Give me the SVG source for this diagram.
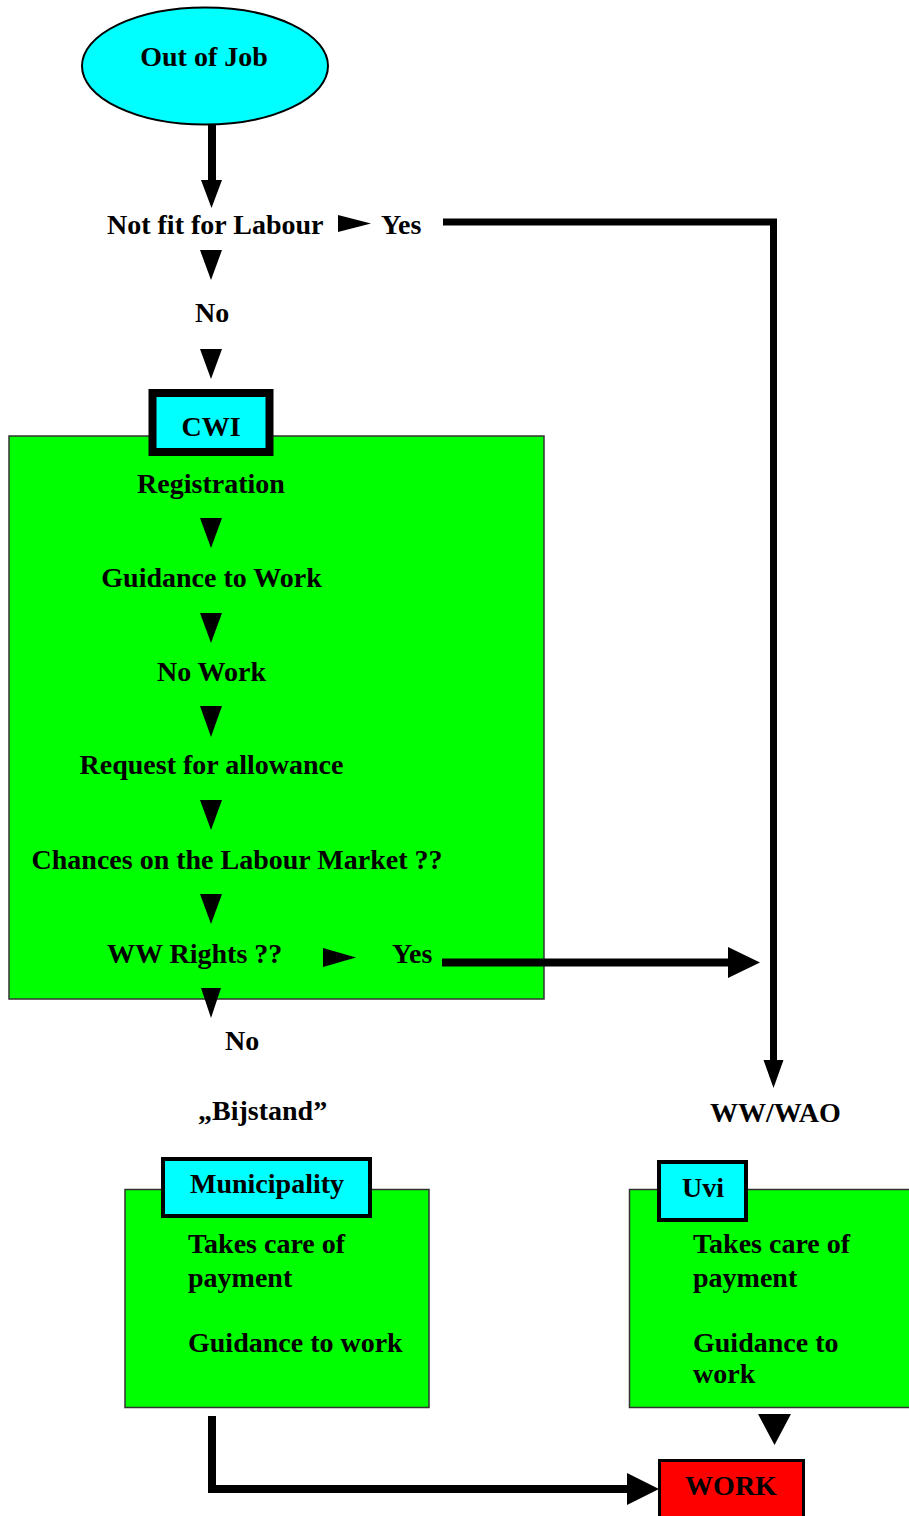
<svg xmlns="http://www.w3.org/2000/svg" width="909" height="1516" viewBox="0 0 909 1516">
<style>
text{font-family:"Liberation Serif","Times New Roman",serif;font-weight:bold;font-size:28px;fill:#000}
.c{text-anchor:middle}
.green{fill:#00FF00;stroke:#333;stroke-width:1.5}
.lbl{fill:#00FFFF;stroke:#000}
.ln{fill:none;stroke:#000;stroke-linejoin:miter}
.tri{fill:#000}
</style>
<rect width="909" height="1516" fill="#fff"/>
<g id="out-of-job">
<ellipse cx="205" cy="66" rx="123" ry="58.5" fill="#00FFFF" stroke="#000" stroke-width="2"/>
<text class="c" x="204" y="66">Out of Job</text>
</g>
<g id="not-fit">
<text x="107" y="234">Not fit for Labour</text>
<text x="381" y="234">Yes</text>
</g>
<g id="no1"><text x="195" y="322">No</text></g>
<g id="cwi">
<rect class="green" x="9" y="436" width="535" height="563"/>
<rect class="lbl" x="152.5" y="393" width="117" height="59" stroke-width="8"/>
<text class="c" x="211" y="436">CWI</text>
<text class="c" x="211" y="493">Registration</text>
<text class="c" x="211.5" y="587">Guidance to Work</text>
<text class="c" x="211.5" y="681">No Work</text>
<text class="c" x="211.5" y="774">Request for allowance</text>
<text class="c" x="237" y="869">Chances on the Labour Market ??</text>
<text x="107" y="963">WW Rights ??</text>
<text x="392" y="963">Yes</text>
</g>
<g id="no2"><text x="225" y="1050">No</text></g>
<g id="bijstand"><text x="198" y="1120">„Bijstand”</text></g>
<g id="wwwao"><text x="710" y="1122">WW/WAO</text></g>
<g id="municipality">
<rect class="green" x="125" y="1189.5" width="304" height="218"/>
<rect class="lbl" x="163" y="1159" width="207" height="57" stroke-width="4"/>
<text x="190" y="1193">Municipality</text>
<text x="188" y="1253">Takes care of</text>
<text x="188" y="1287">payment</text>
<text x="188" y="1352">Guidance to work</text>
</g>
<g id="uvi">
<rect class="green" x="629.5" y="1189.5" width="285" height="218"/>
<rect class="lbl" x="659" y="1162" width="87" height="58" stroke-width="4"/>
<text x="682" y="1197">Uvi</text>
<text x="693" y="1253">Takes care of</text>
<text x="693" y="1287">payment</text>
<text x="693" y="1352">Guidance to</text>
<text x="693" y="1383">work</text>
</g>
<g id="work">
<rect x="659.5" y="1460.5" width="144" height="60" fill="#FF0000" stroke="#000" stroke-width="3"/>
<text class="c" x="731" y="1495">WORK</text>
</g>
<g id="connectors">
<line class="ln" x1="212" y1="124" x2="212" y2="181" stroke-width="8"/>
<polygon class="tri" points="201,180 222,180 211.5,208"/>
<polygon class="tri" points="338,215 371,223.5 338,232"/>
<polygon class="tri" points="200,250 222,250 211,280"/>
<polygon class="tri" points="200,349 222,349 211,379"/>
<polyline class="ln" points="443,222 773.5,222 773.5,1062" stroke-width="7"/>
<polygon class="tri" points="763.5,1060 783.5,1060 773.5,1088"/>
<polygon class="tri" points="200,518 222,518 211,548"/>
<polygon class="tri" points="200,613 222,613 211,643"/>
<polygon class="tri" points="200,706 222,706 211,737"/>
<polygon class="tri" points="200,800 222,800 211,830"/>
<polygon class="tri" points="200,894 222,894 211,924"/>
<polygon class="tri" points="323,948 356,957.5 323,967"/>
<line class="ln" x1="442" y1="962.5" x2="732" y2="962.5" stroke-width="8"/>
<polygon class="tri" points="728,947 760,962.5 728,978"/>
<polygon class="tri" points="201,988 221,988 211,1018"/>
<polygon class="tri" points="758,1414 791,1414 774.5,1445"/>
<polyline class="ln" points="212,1416 212,1489 630,1489" stroke-width="8"/>
<polygon class="tri" points="627,1473 659,1489 627,1505"/>
</g>
</svg>
